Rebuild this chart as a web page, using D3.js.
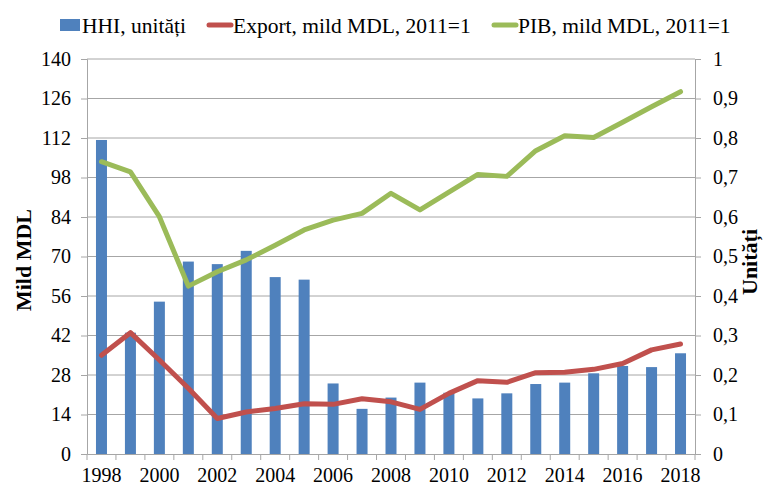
<!DOCTYPE html>
<html><head><meta charset="utf-8">
<script src="https://cdn.jsdelivr.net/npm/d3@7"></script>
<style>body{margin:0;background:#fff}svg{display:block}svg text{font-family:"Liberation Serif","Times New Roman",serif !important}</style>
</head><body>
<svg id="c" width="764" height="487"></svg>
<script>
const years = [1998,1999,2000,2001,2002,2003,2004,2005,2006,2007,2008,2009,2010,2011,2012,2013,2014,2015,2016,2017,2018];
const hhi = [111.3,43,54,68.2,67.3,72,62.7,61.8,25,16,20,25.3,21.7,19.7,21.5,24.8,25.3,28.6,31.2,30.8,35.7];
const exportV = [35,43,33.3,23.3,12.6,14.9,16.1,17.8,17.6,19.6,18.5,15.8,21.5,26,25.4,28.8,29,30,32.1,36.9,39];
const pib = [103.6,100,84.1,59.5,64.6,68.8,74,79.4,82.9,85.3,92.4,86.5,92.8,99.1,98.4,107.5,112.8,112.2,117.6,123.1,128.4];
const leftTicks = [0,14,28,42,56,70,84,98,112,126,140];
const rightTicks = [0,0.1,0.2,0.3,0.4,0.5,0.6,0.7,0.8,0.9,1];
const xLabels = [1998,2000,2002,2004,2006,2008,2010,2012,2014,2016,2018];
const legendItems = ["HHI, unități","Export, mild MDL, 2011=1","PIB, mild MDL, 2011=1"];

const svg = d3.select("#c");
const L=87, R=695, T=59, B=454;
const x = d3.scaleBand().domain(years).range([L,R]).paddingInner(0).paddingOuter(0);
const y = d3.scaleLinear().domain([0,140]).range([B,T]);
const y2 = d3.scaleLinear().domain([0,1]).range([B,T]);
const gridC="#a6a6a6";

// grid
svg.append("g").selectAll("line").data(leftTicks.slice(1)).join("line")
  .attr("x1",L).attr("x2",R).attr("y1",d=>y(d)).attr("y2",d=>y(d))
  .attr("stroke",gridC).attr("stroke-width",1);

// bars
const bw = x.step()*0.38;
svg.append("g").selectAll("rect").data(years).join("rect")
  .attr("x",(d,i)=>x(d)+x.bandwidth()/2-bw/2).attr("width",bw)
  .attr("y",(d,i)=>y(hhi[i])).attr("height",(d,i)=>B-y(hhi[i]))
  .attr("fill","#4f81bd");

// axes
const ya = svg.append("g").attr("transform",`translate(${L},0)`)
  .call(d3.axisLeft(y).tickValues(leftTicks).tickSize(6).tickPadding(10).tickFormat(d3.format("d")));
const ya2 = svg.append("g").attr("transform",`translate(${R},0)`)
  .call(d3.axisRight(y2).tickValues(rightTicks).tickSize(6).tickPadding(12).tickFormat(d=>String(d).replace(".",",")));
const xa = svg.append("g").attr("transform",`translate(0,${B})`)
  .call(d3.axisBottom(x).tickValues(xLabels).tickSize(0).tickPadding(14).tickFormat(d3.format("d")));
// x ticks at category boundaries
svg.append("g").selectAll("line").data(years.concat([null])).join("line")
  .attr("x1",(d,i)=>L+i*x.step()).attr("x2",(d,i)=>L+i*x.step())
  .attr("y1",B).attr("y2",B+6).attr("stroke",gridC);
[ya,ya2,xa].forEach(g=>{
  g.attr("font-family",null);
  g.selectAll("path").attr("stroke",gridC);
  g.selectAll("line").attr("stroke",gridC);
  g.selectAll("text").attr("font-size",20).attr("fill","#000");
});

// lines
const line = arr => d3.line().x((d,i)=>x(years[i])+x.bandwidth()/2).y(d=>y(d))(arr);
svg.append("path").attr("d",line(exportV)).attr("fill","none").attr("stroke","#c0504d").attr("stroke-width",5).attr("stroke-linejoin","round").attr("stroke-linecap","round");
svg.append("path").attr("d",line(pib)).attr("fill","none").attr("stroke","#9bbb59").attr("stroke-width",5).attr("stroke-linejoin","round").attr("stroke-linecap","round");

// axis titles
svg.append("text").attr("transform","translate(31,260) rotate(-90)").attr("text-anchor","middle")
  .attr("font-size",22).attr("font-weight","bold").text("Mild MDL");
svg.append("text").attr("transform","translate(757,262) rotate(-90)").attr("text-anchor","middle")
  .attr("font-size",22).attr("font-weight","bold").text("Unități");

// legend
const lg = svg.append("g");
lg.append("rect").attr("x",60).attr("y",19).attr("width",20).attr("height",12).attr("fill","#4f81bd");
lg.append("line").attr("x1",209).attr("x2",231).attr("y1",25).attr("y2",25).attr("stroke","#c0504d").attr("stroke-width",5).attr("stroke-linecap","round");
lg.append("line").attr("x1",494).attr("x2",516).attr("y1",25).attr("y2",25).attr("stroke","#9bbb59").attr("stroke-width",5).attr("stroke-linecap","round");
const lx=[82,233,518];
lg.selectAll("text").data(legendItems).join("text").attr("x",(d,i)=>lx[i]).attr("y",33)
  .attr("font-size",21.5).text(d=>d);
</script>
</body></html>
